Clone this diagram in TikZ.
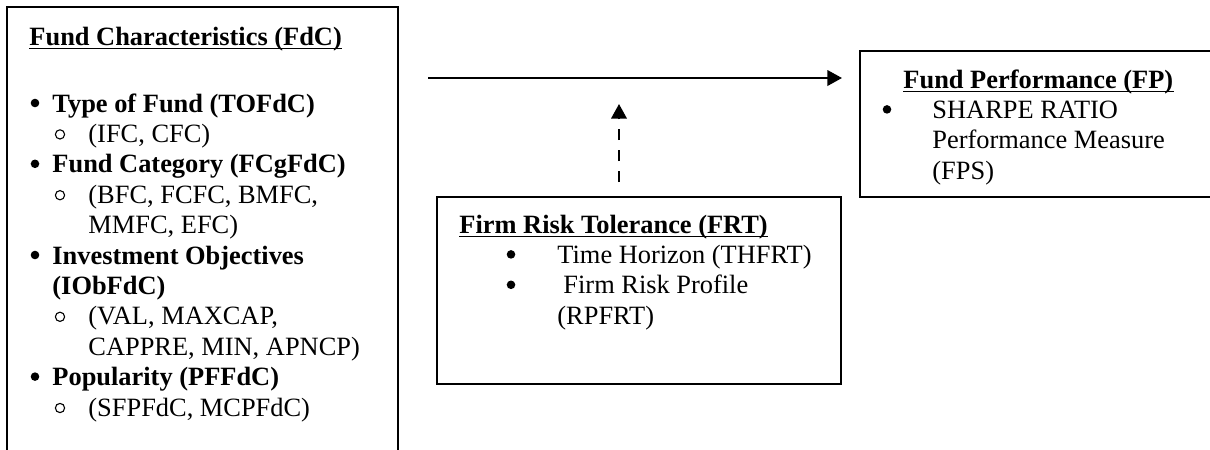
\documentclass[tikz,border=0pt]{standalone}
\usepackage{fontspec}
\setmainfont{Liberation Serif}
\usetikzlibrary{arrows.meta,fit,calc}
\begin{document}
\begin{tikzpicture}[x=0.4545pt,y=-0.4545pt,
  box/.style={draw, line width=0.8pt, inner sep=0pt},
  txt/.style={inner sep=0pt, anchor=base west, font=\fontsize{12pt}{13.8pt}\selectfont},
  btxt/.style={inner sep=0pt, anchor=base west, font=\fontsize{12pt}{13.8pt}\selectfont\bfseries},
  dotm/.style={circle, fill, inner sep=0pt, minimum size=3.9pt},
  ringm/.style={circle, draw, line width=0.5pt, inner sep=0pt, minimum size=4.2pt},
  ul/.style={line width=0.9pt},
  arr/.style={line width=1pt, -{Triangle[length=6.6pt,width=7pt]}},
  darr/.style={arr, dash pattern=on 5.2pt off 4.3pt}]
\useasboundingbox (0,0) rectangle (1210,449);
% boxes
\node[box, fit={(7,7) (398,470)}] (fdc) {};
\node[box, fit={(860,51) (1225,197)}] (fp) {};
\node[box, fit={(437,197) (841,384)}] (frt) {};
% Fund Characteristics
\node[btxt] (fdct) at (29,45) {Fund Characteristics (FdC)};
\draw[ul] ($(fdct.base west)+(0,3.5)$) -- ($(fdct.base east)+(0,3.5)$);
\node[dotm] (b1) at (35,103) {};
\node[btxt] (l1) at (52,112) {Type of Fund (TOFdC)};
\node[ringm] (r1) at (60,134.4) {};
\node[txt] (l2) at (88,142.4) {(IFC, CFC)};
\node[dotm] (b2) at (35,163.8) {};
\node[btxt] (l3) at (52,172.8) {Fund Category (FCgFdC)};
\node[ringm] (r2) at (60,195.2) {};
\node[txt] (l4) at (88,203.2) {(BFC, FCFC, BMFC,};
\node[txt] (l5) at (88,233.6) {MMFC, EFC)};
\node[dotm] (b3) at (35,255) {};
\node[btxt] (l6) at (52,264) {Investment Objectives};
\node[btxt] (l7) at (52,294.4) {(IObFdC)};
\node[ringm] (r3) at (60,316.8) {};
\node[txt] (l8) at (88,324.8) {(VAL, MAXCAP,};
\node[txt] (l9) at (88,355.2) {CAPPRE, MIN, APNCP)};
\node[dotm] (b4) at (35,376.6) {};
\node[btxt] (l10) at (52,385.6) {Popularity (PFFdC)};
\node[ringm] (r4) at (60,408) {};
\node[txt] (l11) at (88,416) {(SFPFdC, MCPFdC)};
% Fund Performance
\node[btxt] (fpt) at (903,88) {Fund Performance (FP)};
\draw[ul] ($(fpt.base west)+(0,3.5)$) -- ($(fpt.base east)+(0,3.5)$);
\node[dotm] (b5) at (887,109.4) {};
\node[txt] (p1) at (932,118.4) {SHARPE RATIO};
\node[txt] (p2) at (932,148.8) {Performance Measure};
\node[txt] (p3) at (932,179.2) {(FPS)};
% Firm Risk Tolerance
\node[btxt] (frtt) at (459,233) {Firm Risk Tolerance (FRT)};
\draw[ul] ($(frtt.base west)+(0,3.5)$) -- ($(frtt.base east)+(0,3.5)$);
\node[dotm] (b6) at (511,254.4) {};
\node[txt] (f1) at (557,263.4) {Time Horizon (THFRT)};
\node[dotm] (b7) at (511,284.8) {};
\node[txt] (f2) at (563,293.8) {Firm Risk Profile};
\node[txt] (f3) at (557,324.2) {(RPFRT)};
% connectors
\coordinate (a1) at (428,78);
\coordinate (a2) at (842,78);
\coordinate (d1) at (619,182);
\coordinate (d2) at (619,104);
\draw[arr] (a1) -- (a2);
\draw[darr] (d1) -- (d2);
\end{tikzpicture}
\end{document}
